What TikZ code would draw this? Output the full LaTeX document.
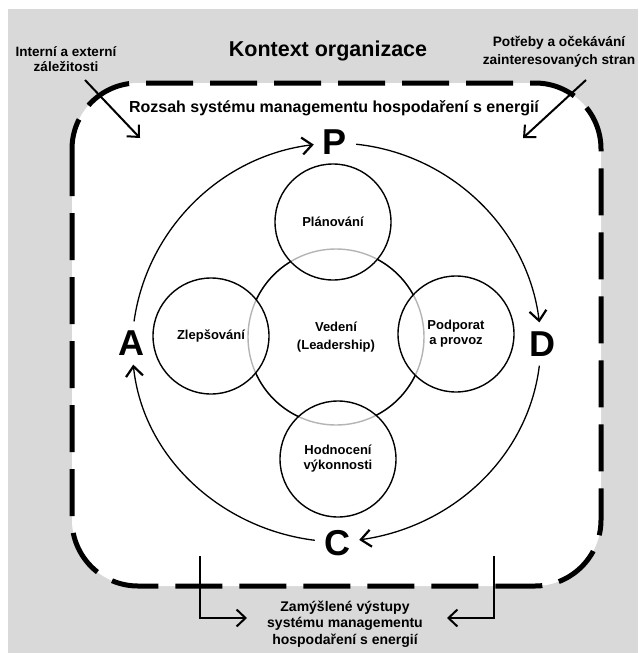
\documentclass[tikz,border=0pt]{standalone}
\usepackage{fontspec}
\setmainfont{Liberation Sans}
\usepackage{xcolor}
\usepackage{tikz}
\usetikzlibrary{arrows.meta}
\definecolor{ctxGray}{HTML}{D9D9D9}
\definecolor{hiddenLine}{HTML}{B4B4B4}

\begin{document}
\begin{tikzpicture}[
  x=1pt, y=1pt,
  note/.style={align=center, inner sep=0pt},
  phase/.style={circle, draw=black, line width=1.4pt, minimum size=116pt, align=center,
                font=\bfseries\fontsize{13}{15}\selectfont},
  lead/.style={circle, draw=hiddenLine, line width=1.4pt, minimum size=176pt, align=center,
               font=\bfseries\fontsize{13}{18}\selectfont},
  letter/.style={inner sep=9pt, font=\bfseries\fontsize{36}{36}\selectfont},
  arr/.style={-{Straight Barb[length=9pt, width=17pt]}, line width=2pt},
  cyc/.style={-{Straight Barb[length=10pt, width=17pt, line width=2.2pt]}, line width=1.3pt, looseness=0.95}
]
\useasboundingbox (0,0) rectangle (638,-653);
\fill[ctxGray] (8,-9) rectangle (638,-653);
\draw[fill=white, line width=5pt, dash pattern=on 47pt off 17pt, rounded corners=66pt]
  (72,-83) rectangle (601,-586);
\node[note, font=\bfseries\fontsize{21.5}{24}\selectfont] (ctx) at (328,-51) {Kontext organizace};
\node[note, font=\bfseries\fontsize{13.5}{15.5}\selectfont] (issues) at (66,-59) {Interní a externí\\záležitosti};
\node[note, font=\bfseries\fontsize{13.7}{18}\selectfont] (needs) at (559,-52) {Potřeby a očekávání\\zainteresovaných stran};
\node[note, font=\bfseries\fontsize{16}{18}\selectfont] (scope) at (334,-108) {Rozsah systému managementu hospodaření s energií};
\node[note, font=\bfseries\fontsize{14}{16.5}\selectfont] (outputs) at (345,-624) {Zamýšlené výstupy\\systému managementu\\hospodaření s energií};
\node[lead] (lead) at (336,-337) {Vedení\\(Leadership)};
\foreach \s/\e in {28.6/61.9, 121.1/154.9, 204.1/244.8, 297.2/334.2}
  \draw[black, line width=1.4pt] (lead.center) ++(\s:88) arc[start angle=\s, end angle=\e, radius=88];
\node[phase] (plan) at (333,-222) {Plánování};
\node[phase] (impr) at (211,-336) {Zlepšování};
\node[phase] (supp) at (456,-334) {Podporat\\a provoz};
\node[phase] (eval) at (338,-459) {Hodnocení\\výkonnosti};
\node[letter] (P) at (335,-142) {P};
\node[letter] (D) at (542,-344) {D};
\node[letter] (C) at (337,-543) {C};
\node[letter] (A) at (131,-343) {A};
\draw[cyc] (P) to[out=-6, in=97] (D);
\draw[cyc] (D) to[out=-97, in=8] (C);
\draw[cyc] (C) to[out=173, in=-84] (A);
\draw[cyc] (A) to[out=82, in=187] (P);
\coordinate (issuesA) at (85,-80);
\coordinate (issuesB) at (140,-138);
\coordinate (needsA) at (586,-80);
\coordinate (needsB) at (523,-138);
\coordinate (outL) at (200,-556);
\coordinate (outLend) at (247,-618);
\coordinate (outR) at (494,-556);
\coordinate (outRend) at (447,-618);
\draw[arr] (issuesA) -- (issuesB);
\draw[arr] (needsA) -- (needsB);
\draw[arr] (outL) |- (outLend);
\draw[arr] (outR) |- (outRend);
\end{tikzpicture}
\end{document}
